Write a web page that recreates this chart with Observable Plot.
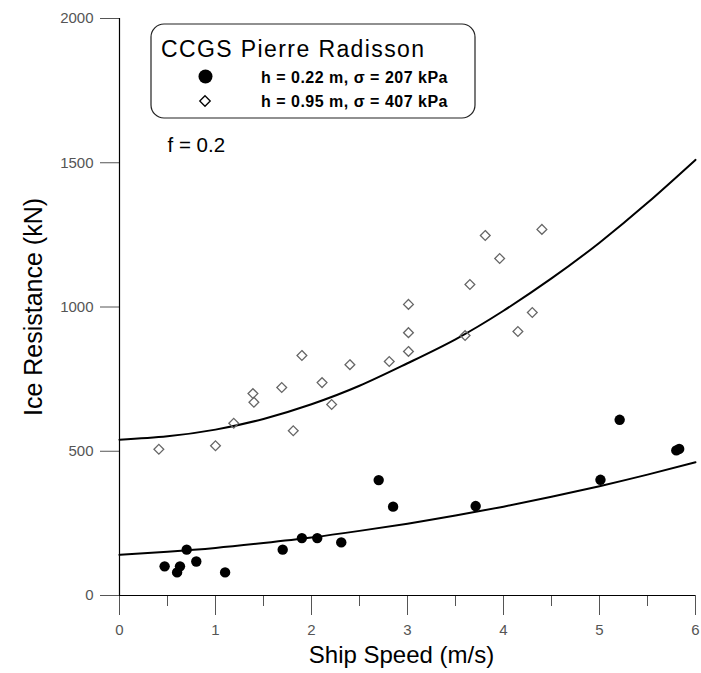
<!DOCTYPE html>
<html>
<head>
<meta charset="utf-8">
<script src="https://cdn.jsdelivr.net/npm/d3@7"></script>
<script src="https://cdn.jsdelivr.net/npm/@observablehq/plot@0.6"></script>
<style>
  html, body { margin: 0; padding: 0; background: #fff; }
  #chart { width: 701px; height: 673px; }
</style>
</head>
<body>
<div id="chart"></div>
<script>
// ---- data ----
const filledSpeed  = [0.47, 0.60, 0.63, 0.70, 0.80, 1.10, 1.70, 1.90, 2.06, 2.31, 2.70, 2.85, 3.71, 5.01, 5.21, 5.80, 5.83];
const filledResist = [101, 80, 101, 159, 118, 80, 159, 199, 199, 184, 400, 308, 310, 401, 609, 503, 508];

const openSpeed  = [0.41, 1.00, 1.19, 1.40, 1.39, 1.69, 1.81, 1.90, 2.11, 2.21, 2.40, 2.81, 3.01, 3.01, 3.01, 3.60, 3.65, 3.81, 3.96, 4.15, 4.30, 4.40];
const openResist = [507, 519, 597, 670, 700, 721, 571, 832, 738, 662, 800, 811, 846, 911, 1009, 901, 1078, 1248, 1168, 915, 981, 1269];

// fitted curves, read at half-unit speeds
const fitSpeed = [0, 0.5, 1, 1.5, 2, 2.5, 3, 3.5, 4, 4.5, 5, 5.5, 6];
const fitLow   = [141, 152, 165, 182, 201, 224, 249, 277, 308, 342, 379, 419, 462];
const fitHigh  = [540, 552, 575, 612, 663, 727, 805, 888, 987, 1099, 1223, 1361, 1510];

const xTicks = [0, 1, 2, 3, 4, 5, 6];
const xMinorTicks = [0.5, 1.5, 2.5, 3.5, 4.5, 5.5];
const yTicks = [0, 500, 1000, 1500, 2000];

const legendTitle = "CCGS Pierre Radisson";
const legendLabels = ["h = 0.22 m, \u03c3 = 207 kPa", "h = 0.95 m, \u03c3 = 407 kPa"];
const noteText = "f = 0.2";
const xLabel = "Ship Speed (m/s)";
const yLabel = "Ice Resistance (kN)";

// ---- tables ----
const filled = filledSpeed.map((s, i) => ({speed: s, resist: filledResist[i]}));
const open = openSpeed.map((s, i) => ({speed: s, resist: openResist[i]}));
const low = fitSpeed.map((s, i) => ({speed: s, resist: fitLow[i]}));
const high = fitSpeed.map((s, i) => ({speed: s, resist: fitHigh[i]}));

const font = "'Liberation Sans', Arial, sans-serif";

const chart = Plot.plot({
  width: 701,
  height: 673,
  marginLeft: 119,
  marginRight: 6,
  marginTop: 18,
  marginBottom: 78,
  style: {fontFamily: font, background: "#fff", overflow: "visible"},
  x: {domain: [0, 6]},
  y: {domain: [0, 2000]},
  marks: [
    Plot.axisX({ticks: xMinorTicks, tickSize: 11, tickFormat: () => "", stroke: "#555", label: null}),
    Plot.axisX({ticks: xTicks, tickSize: 20, tickPadding: 9, fontSize: 15, stroke: "#555", color: "#555", label: null, tickFormat: d => String(d)}),
    Plot.axisY({ticks: yTicks, tickSize: 19, tickPadding: 7, fontSize: 15, stroke: "#555", color: "#555", label: null, tickFormat: d => String(d)}),
    Plot.ruleY([0], {stroke: "#000", strokeWidth: 1.2}),
    Plot.ruleX([0], {stroke: "#000", strokeWidth: 1.2}),
    Plot.line(low, {x: "speed", y: "resist", curve: "natural", stroke: "#000", strokeWidth: 2}),
    Plot.line(high, {x: "speed", y: "resist", curve: "natural", stroke: "#000", strokeWidth: 2}),
    Plot.dot(open, {x: "speed", y: "resist", symbol: "diamond2", r: 4.4, stroke: "#666", strokeWidth: 1.3, fill: "none"}),
    Plot.dot(filled, {x: "speed", y: "resist", r: 5.2, fill: "#000", stroke: "none"}),
    Plot.text([yLabel], {frameAnchor: "left", dx: -86, rotate: -90, text: d => d, fontSize: 25, fill: "#000", textAnchor: "middle"}),
    Plot.text([xLabel], {frameAnchor: "bottom", dx: -6, dy: 67, text: d => d, fontSize: 24, fill: "#000", textAnchor: "middle"}),
    Plot.text([noteText], {frameAnchor: "top-left", dx: 48, dy: 119, text: d => d, fontSize: 20.5, fill: "#000", textAnchor: "start"})
  ]
});

document.getElementById("chart").appendChild(chart);

// legend box
const svg = d3.select(chart);
const g = svg.append("g").attr("font-family", font).attr("text-anchor", "start");
g.append("rect").attr("x", 151).attr("y", 24).attr("width", 324).attr("height", 94)
  .attr("rx", 13).attr("fill", "#fff").attr("stroke", "#222").attr("stroke-width", 1.2);
g.append("text").attr("x", 161).attr("y", 57).attr("font-size", 23).attr("letter-spacing", 1.4)
  .attr("text-anchor", "start").attr("fill", "#000").text(legendTitle);
g.append("circle").attr("cx", 205.5).attr("cy", 76.5).attr("r", 7).attr("fill", "#000");
g.append("path").attr("d", d3.symbol(d3.symbolDiamond2, 70)()).attr("transform", "translate(205,101)")
  .attr("fill", "none").attr("stroke", "#000").attr("stroke-width", 1.3);
g.append("text").attr("x", 261).attr("y", 83).attr("font-size", 16).attr("font-weight", "bold")
  .attr("letter-spacing", 0.5).attr("text-anchor", "start").attr("fill", "#000").text(legendLabels[0]);
g.append("text").attr("x", 261).attr("y", 107).attr("font-size", 16).attr("font-weight", "bold")
  .attr("letter-spacing", 0.5).attr("text-anchor", "start").attr("fill", "#000").text(legendLabels[1]);
</script>
</body>
</html>
